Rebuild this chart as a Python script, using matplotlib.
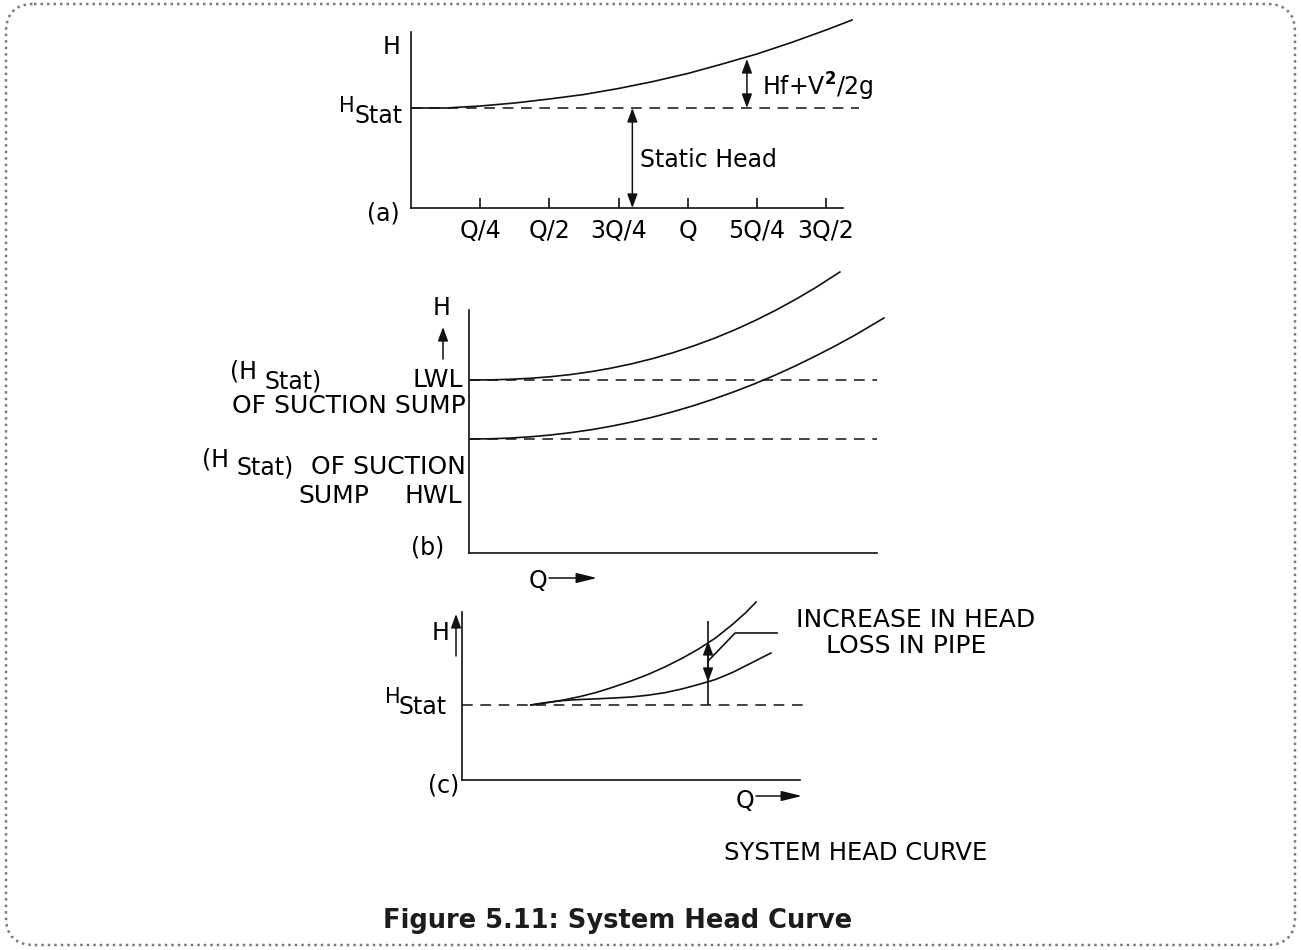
import numpy as np
import matplotlib.pyplot as plt
from matplotlib.patches import FancyBboxPatch

plt.rcParams['font.family'] = ['DejaVu Sans']
plt.rcParams['mathtext.fontset'] = 'dejavusans'

# ---- data (Q in flow units, H in head units) ----
# (a) single system curve
a_q = [0, 0.125, 0.25, 0.375, 0.5, 0.625, 0.75, 0.875, 1.0, 1.125, 1.25, 1.375, 1.5, 1.594]
a_h = [1.0, 1.0, 1.02, 1.05, 1.09, 1.135, 1.195, 1.265, 1.345, 1.44, 1.54, 1.655, 1.78, 1.88]
a_hstat = 1.0
a_ticks = [0.25, 0.5, 0.75, 1.0, 1.25, 1.5]
a_ticklabels = ['Q/4', 'Q/2', '3Q/4', 'Q', '5Q/4', '3Q/2']
a_static_q = 0.80
a_loss_q = 1.214
a_loss_top = 1.49

# (b) low and high water level curves
b_upper_q = [0, 0.05, 0.10, 0.15, 0.20, 0.25, 0.30, 0.35, 0.40, 0.45, 0.50,
             0.55, 0.60, 0.65, 0.70, 0.75, 0.80, 0.85, 0.909]
b_upper_h = [1.73, 1.731, 1.737, 1.747, 1.763, 1.785, 1.814, 1.850, 1.893, 1.944, 2.003,
             2.070, 2.145, 2.229, 2.322, 2.424, 2.535, 2.655, 2.81]
b_lower_q = [0, 0.05, 0.10, 0.15, 0.20, 0.25, 0.30, 0.35, 0.40, 0.45, 0.50,
             0.55, 0.60, 0.65, 0.70, 0.75, 0.80, 0.85, 0.90, 0.95, 1.017]
b_lower_h = [1.14, 1.142, 1.149, 1.162, 1.180, 1.204, 1.233, 1.269, 1.311, 1.358, 1.413,
             1.473, 1.540, 1.613, 1.692, 1.778, 1.871, 1.971, 2.076, 2.188, 2.35]
b_lwl = 1.73
b_hwl = 1.14

# (c) old pipe vs new pipe
c_upper_q = [0.204, 0.25, 0.30, 0.35, 0.40, 0.444, 0.50, 0.55, 0.60, 0.65, 0.70,
             0.75, 0.80, 0.84, 0.87]
c_upper_h = [0.750, 0.772, 0.800, 0.835, 0.878, 0.925, 0.99, 1.055, 1.13, 1.215, 1.31,
             1.42, 1.555, 1.675, 1.78]
c_lower_q = [0.204, 0.25, 0.30, 0.35, 0.40, 0.45, 0.50, 0.55, 0.60, 0.65, 0.70,
             0.75, 0.80, 0.85, 0.914]
c_lower_h = [0.75, 0.775, 0.795, 0.805, 0.812, 0.82, 0.83, 0.848, 0.873, 0.91, 0.955,
             1.005, 1.075, 1.16, 1.27]
c_hstat = 0.75
c_marker_q = 0.728
c_marker_top = 1.59
c_head_up = 1.39
c_head_down = 0.98
c_leader_q = [0.731, 0.808, 0.932]
c_leader_h = [1.20, 1.47, 1.47]

W, H = 1301, 950
INK = '#111111'
FS = 17
FS_CAPS = 18

fig = plt.figure(figsize=(W / 100, H / 100), dpi=100)

bg = fig.add_axes([0, 0, 1, 1])
bg.set_xlim(0, W)
bg.set_ylim(H, 0)
bg.axis('off')

frame = FancyBboxPatch((6, 4), W - 12, H - 9, boxstyle='round,pad=0,rounding_size=28',
                       fill=False, edgecolor='#7a7a7a', lw=1.8, linestyle=(0, (1, 1.6)))
bg.add_patch(frame)


def panel(x0, y0, xpx, ypx, xmax, ymax):
    # x0, y0 = pixel position of the origin, xpx/ypx = pixels per data unit
    ax = fig.add_axes([x0 / W, (H - y0) / H, xmax * xpx / W, ymax * ypx / H])
    ax.set_xlim(0, xmax)
    ax.set_ylim(0, ymax)
    ax.patch.set_alpha(0)
    for s in ['top', 'right']:
        ax.spines[s].set_visible(False)
    for s in ['left', 'bottom']:
        ax.spines[s].set_linewidth(1.2)
        ax.spines[s].set_color(INK)
    ax.set_yticks([])
    ax.set_xticks([])
    return ax


def double_arrow(ax, q, h0, h1):
    ax.annotate('', xy=(q, h1), xytext=(q, h0),
                arrowprops=dict(arrowstyle='<|-|>,head_length=0.6,head_width=0.22',
                                mutation_scale=14, color=INK, lw=1.1,
                                shrinkA=0, shrinkB=0))


def single_arrow(ax, x0, y0, x1, y1, hl=0.6):
    ax.annotate('', xy=(x1, y1), xytext=(x0, y0),
                arrowprops=dict(arrowstyle=f'-|>,head_length={hl},head_width=0.22',
                                mutation_scale=14, color=INK, lw=1.1,
                                shrinkA=0, shrinkB=0))


# ---------------- (a) ----------------
ax_a = panel(411, 208, 276.7, 100, 1.65, 1.92)
ax_a.spines['left'].set_bounds(0, 1.76)
ax_a.spines['bottom'].set_bounds(0, 1.56)
ax_a.set_xticks(a_ticks)
ax_a.set_xticklabels(a_ticklabels, fontsize=FS)
ax_a.tick_params(axis='x', direction='in', length=7, width=1.2, color=INK, pad=8)
ax_a.hlines(a_hstat, 0, 1.62, colors=INK, lw=1.1, linestyles=(0, (7, 5)))
ax_a.plot(a_q, a_h, color=INK, lw=1.2)
double_arrow(ax_a, a_static_q, 0, a_hstat)
double_arrow(ax_a, a_loss_q, a_hstat, a_loss_top)

bg.text(392, 47, 'H', fontsize=FS, ha='center', va='center')
bg.text(339, 106, 'H', fontsize=FS - 2, ha='left', va='center')
bg.text(354, 116, 'Stat', fontsize=FS, ha='left', va='center')
bg.text(383, 214, '(a)', fontsize=FS, ha='center', va='center')
bg.text(640, 160, 'Static Head', fontsize=FS, ha='left', va='center')
bg.text(762, 87, r'Hf+V$^{\mathbf{2}}$/2g', fontsize=FS, ha='left', va='center')

# ---------------- (b) ----------------
ax_b = panel(469, 553, 408, 100, 1.03, 2.85)
ax_b.spines['left'].set_bounds(0, 2.43)
ax_b.spines['bottom'].set_bounds(0, 1.0)
ax_b.hlines([b_lwl, b_hwl], 0, 1.0, colors=INK, lw=1.1, linestyles=(0, (7, 5)))
ax_b.plot(b_upper_q, b_upper_h, color=INK, lw=1.2)
ax_b.plot(b_lower_q, b_lower_h, color=INK, lw=1.2)

bg.text(442, 308, 'H', fontsize=FS, ha='center', va='center')
single_arrow(bg, 443, 359, 443, 327)
bg.text(257, 371, '(H', fontsize=FS, ha='right', va='center')
bg.text(322, 381, 'Stat)', fontsize=FS, ha='right', va='center')
bg.text(463, 380, 'LWL', fontsize=FS_CAPS, ha='right', va='center')
bg.text(466, 406, 'OF SUCTION SUMP', fontsize=FS_CAPS, ha='right', va='center')
bg.text(229, 460, '(H', fontsize=FS, ha='right', va='center')
bg.text(294, 468, 'Stat)', fontsize=FS, ha='right', va='center')
bg.text(466, 467, 'OF SUCTION', fontsize=FS_CAPS, ha='right', va='center')
bg.text(298, 496, 'SUMP', fontsize=FS_CAPS, ha='left', va='center')
bg.text(462, 496, 'HWL', fontsize=FS_CAPS, ha='right', va='center')
bg.text(428, 548, '(b)', fontsize=FS, ha='center', va='center')
bg.text(538, 581, 'Q', fontsize=FS, ha='center', va='center')
single_arrow(bg, 549, 578, 597, 578, hl=0.9)

# ---------------- (c) ----------------
ax_c = panel(462, 780, 338, 100, 1.05, 1.85)
ax_c.spines['left'].set_bounds(0, 1.68)
ax_c.spines['bottom'].set_bounds(0, 1.0)
ax_c.hlines(c_hstat, 0, 1.02, colors=INK, lw=1.1, linestyles=(0, (7, 5)))
ax_c.plot(c_upper_q, c_upper_h, color=INK, lw=1.2)
ax_c.plot(c_lower_q, c_lower_h, color=INK, lw=1.2)
ax_c.vlines(c_marker_q, c_hstat, c_marker_top, colors=INK, lw=1.2)
mid = (c_head_up + c_head_down) / 2
single_arrow(ax_c, c_marker_q, mid, c_marker_q, c_head_up)
single_arrow(ax_c, c_marker_q, mid, c_marker_q, c_head_down)
ax_c.plot(c_leader_q, c_leader_h, color=INK, lw=1.2, clip_on=False)

bg.text(441, 633, 'H', fontsize=FS, ha='center', va='center')
single_arrow(bg, 456, 656, 456, 614)
bg.text(385, 697, 'H', fontsize=FS - 2, ha='left', va='center')
bg.text(398, 707, 'Stat', fontsize=FS, ha='left', va='center')
bg.text(444, 785, '(c)', fontsize=FS, ha='center', va='center')
bg.text(745, 801, 'Q', fontsize=FS, ha='center', va='center')
single_arrow(bg, 756, 796, 802, 796, hl=0.9)
bg.text(916, 620, 'INCREASE IN HEAD', fontsize=FS_CAPS, ha='center', va='center')
bg.text(906, 646, 'LOSS IN PIPE', fontsize=FS_CAPS, ha='center', va='center')

bg.text(856, 853, 'SYSTEM HEAD CURVE', fontsize=FS_CAPS - 0.5, ha='center', va='center')
bg.text(618, 921, 'Figure 5.11: System Head Curve', fontsize=18.5, fontweight='bold',
        ha='center', va='center', color='#1c1c1c')

fig.savefig('out.png', dpi=100)
